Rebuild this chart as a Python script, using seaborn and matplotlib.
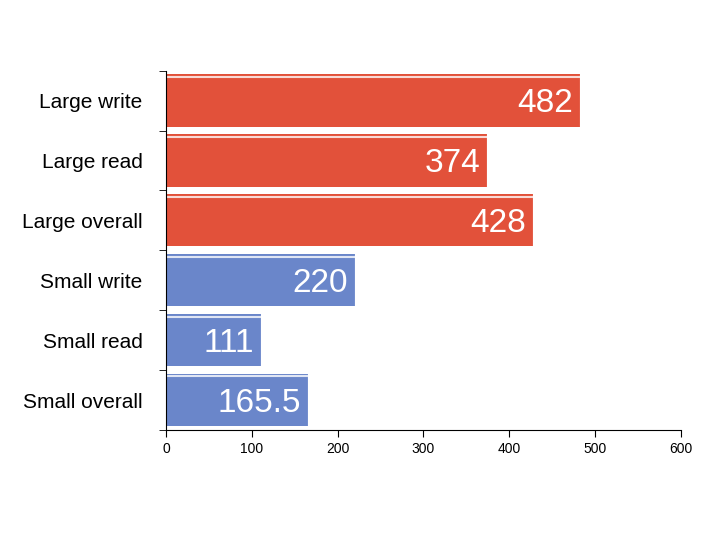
import matplotlib
matplotlib.use("Agg")
import matplotlib.pyplot as plt
import seaborn as sns
import pandas as pd
import numpy as np

categories = ["Large write", "Large read", "Large overall", "Small write", "Small read", "Small overall"]
values = [482, 374, 428, 220, 111, 165.5]
groups = ["Large", "Large", "Large", "Small", "Small", "Small"]
labels = ["482", "374", "428", "220", "111", "165.5"]

sns.set_style("white")
plt.rcParams['font.family'] = ['Liberation Sans', 'DejaVu Sans']

df = pd.DataFrame({"cat": categories, "val": values, "grp": groups})
fig = plt.figure(figsize=(7.04, 5.43), dpi=100)
ax = fig.add_axes([0.236, 0.208, 0.731, 0.662])
sns.barplot(data=df, y="cat", x="val", hue="grp", palette={"Large": "#E2513A", "Small": "#6A86CA"},
            saturation=1, dodge=False, width=0.87, ax=ax, legend=False, edgecolor="none")
for p in ax.patches:
    if p.get_width() > 0:
        y0 = p.get_y(); h = p.get_height()
        ax.plot([0, p.get_width()], [y0 + 0.04, y0 + 0.04], color="white", lw=1.5, alpha=0.8)
        ax.plot([p.get_width(), p.get_width()], [y0, y0 + h], color="white", lw=1, alpha=0.4)
for i, (v, t) in enumerate(zip(values, labels)):
    ax.text(v - 8, i + 0.05, t, color="white", ha="right", va="center", fontsize=24)
ax.set_xlim(0, 600)
ax.set_ylim(5.5, -0.5)
ax.set_xticks(range(0, 601, 100))
ax.set_xlabel(""); ax.set_ylabel("")
ax.tick_params(axis="x", labelsize=10, length=5, direction="out", bottom=True, color="black", labelcolor="black")
ax.tick_params(axis="y", labelsize=15, length=0, pad=17, labelcolor="black")
ax.set_yticks(np.arange(-0.5, 6, 1), minor=True)
ax.tick_params(axis="y", which="minor", length=5, left=True, color="black")
for s in ["top", "right"]:
    ax.spines[s].set_visible(False)
for s in ["left", "bottom"]:
    ax.spines[s].set_color("black")
fig.savefig("out.png", dpi=100)
